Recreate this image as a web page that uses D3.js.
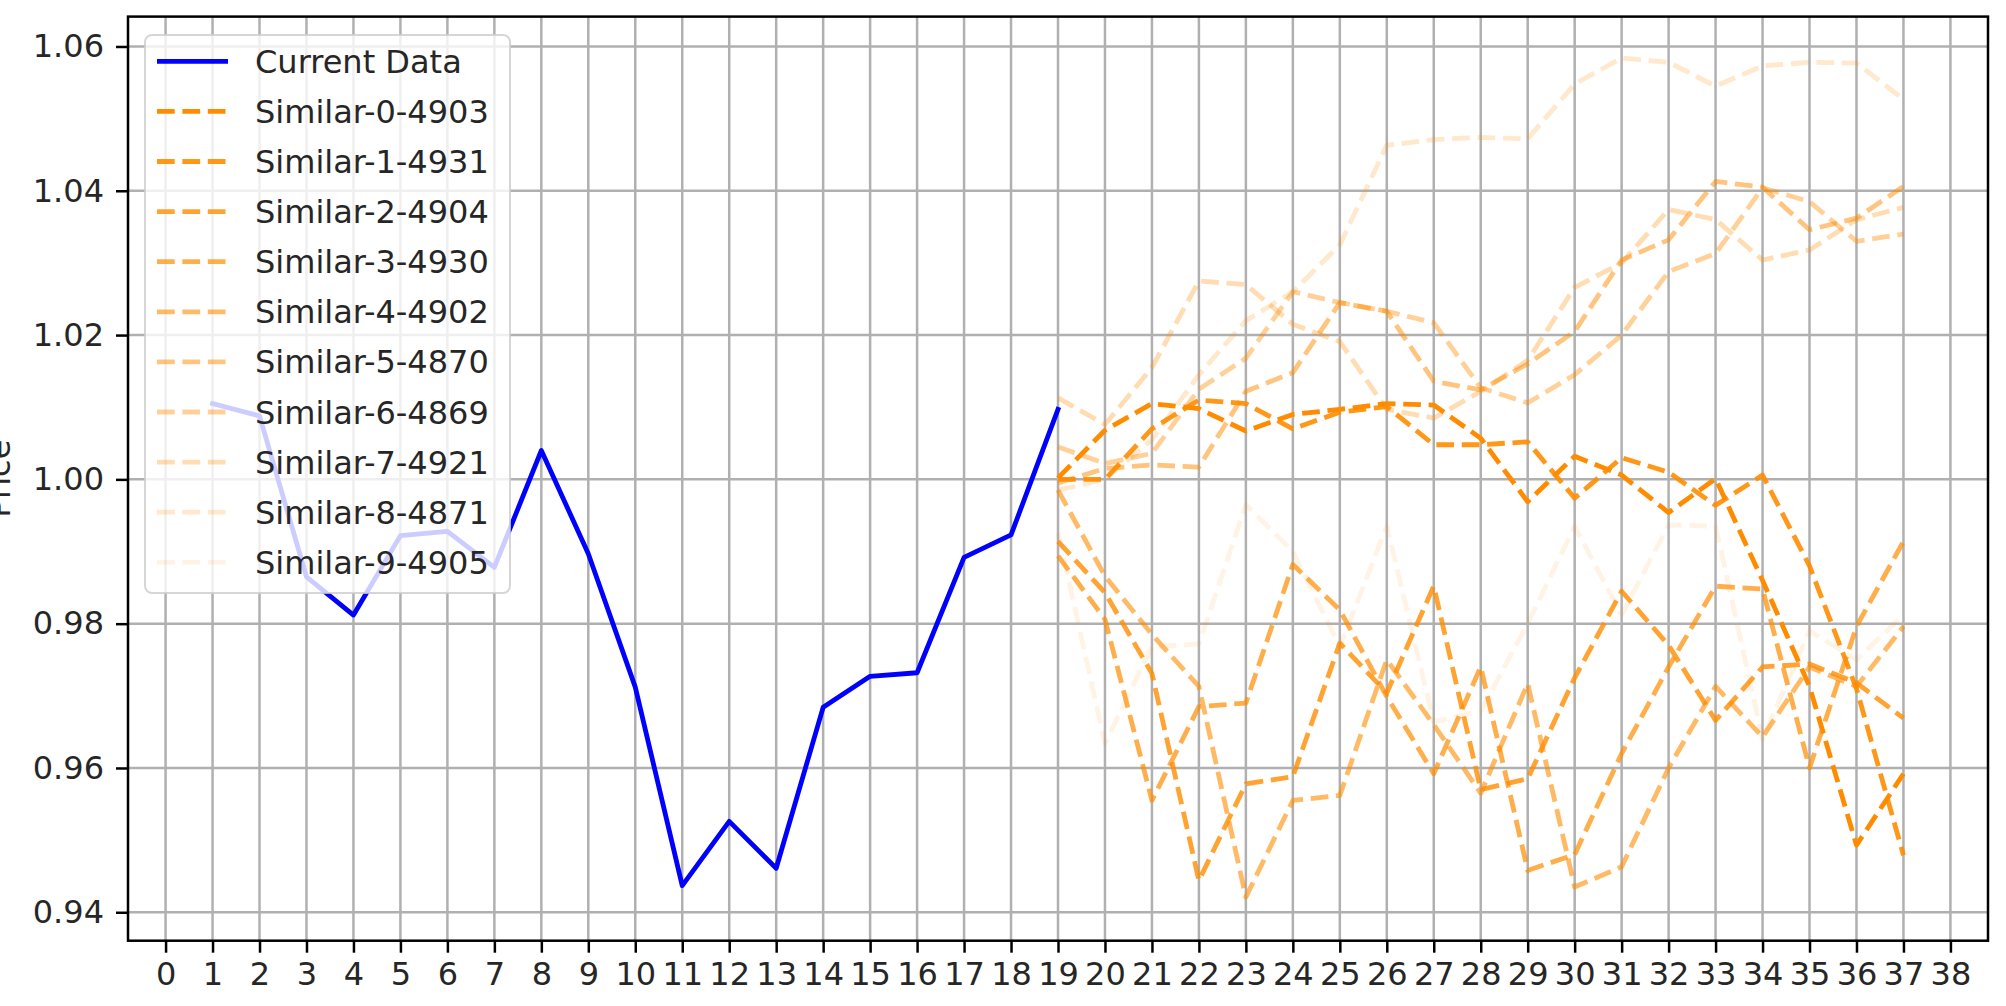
<!DOCTYPE html>
<html><head><meta charset="utf-8">
<script src="https://cdn.jsdelivr.net/npm/d3@7"></script>
<style>body{margin:0;background:#fff;} svg{display:block;} text{font-family:"DejaVu Sans",sans-serif;fill:#262626;}</style>
</head><body>
<svg id="c" width="2006" height="1006"></svg>
<script>
// ---- data ----
const xTicks = d3.range(0, 39);
const yTicks = [0.94, 0.96, 0.98, 1.00, 1.02, 1.04, 1.06];
const currentX = d3.range(1, 20);
const currentData = [1.0105, 1.0088, 0.9865, 0.9812, 0.9922, 0.9928, 0.9878, 1.0040, 0.9897, 0.9712,
  0.9437, 0.9526, 0.9461, 0.9684, 0.9727, 0.9732, 0.9892, 0.9923, 1.0097];
const similarX = d3.range(19, 38);
const similarNames = ["Similar-0-4903","Similar-1-4931","Similar-2-4904","Similar-3-4930","Similar-4-4902",
  "Similar-5-4870","Similar-6-4869","Similar-7-4921","Similar-8-4871","Similar-9-4905"];
const similar0 = [1.0002,1.0068,1.0105,1.0098,1.0067,1.0090,1.0097,1.0105,1.0103,1.0057,0.9969,1.0032,1.0006,0.9954,1.0001,0.9860,0.9713,0.9493,0.9592];
const similar1 = [1.0000,1.0000,1.0070,1.0110,1.0105,1.0070,1.0093,1.0101,1.0048,1.0048,1.0052,0.9974,1.0030,1.0010,0.9964,1.0006,0.9880,0.9710,0.9479];
const similar2 = [0.9914,0.9843,0.9731,0.9444,0.9578,0.9588,0.9773,0.9704,0.9852,0.9570,0.9585,0.9725,0.9845,0.9770,0.9666,0.9740,0.9744,0.9718,0.9669];
const similar3 = [0.9894,0.9806,0.9555,0.9685,0.9690,0.9882,0.9819,0.9699,0.9592,0.9740,0.9458,0.9480,0.9620,0.9740,0.9852,0.9848,0.9600,0.9796,0.9914];
const similar4 = [0.9985,0.9866,0.9785,0.9713,0.9421,0.9555,0.9562,0.9750,0.9660,0.9565,0.9717,0.9435,0.9463,0.9600,0.9713,0.9643,0.9740,0.9713,0.9796];
const similar5 = [0.9995,1.0015,1.0020,1.0017,1.0122,1.0148,1.0245,1.0233,1.0136,1.0124,1.0160,1.0205,1.0304,1.0332,1.0413,1.0405,1.0346,1.0362,1.0406];
const similar6 = [1.0045,1.0022,1.0036,1.0125,1.0168,1.0260,1.0245,1.0233,1.0217,1.0127,1.0106,1.0145,1.0200,1.0288,1.0313,1.0404,1.0385,1.0330,1.0340];
const similar7 = [1.0113,1.0076,1.0155,1.0275,1.0270,1.0215,1.0191,1.0097,1.0085,1.0122,1.0165,1.0266,1.0300,1.0374,1.0360,1.0304,1.0318,1.0360,1.0377];
const similar8 = [0.9985,1.0000,1.0055,1.0145,1.0220,1.0260,1.0325,1.0463,1.0471,1.0474,1.0472,1.0548,1.0584,1.0578,1.0545,1.0573,1.0578,1.0577,1.0527];
const similar9 = [0.9926,0.9634,0.9768,0.9772,0.9965,0.9900,0.9768,0.9935,0.9664,0.9679,0.9800,0.9935,0.9812,0.9937,0.9935,0.9640,0.9790,0.9750,0.9812];
const similarSeries = [similar0,similar1,similar2,similar3,similar4,similar5,similar6,similar7,similar8,similar9];

// ---- layout ----
const L = 128, R = 1988, T = 16.6, B = 940.7;
const FS = 32;
const svg = d3.select("#c");
const x = d3.scaleLinear().domain([-0.8, 38.8]).range([L, R]);
const y = d3.scaleLinear().domain([0.93606, 1.06414]).range([B, T]);

// grid
const g = svg.append("g");
g.selectAll("line.vg").data(xTicks).enter().append("line")
  .attr("x1", d => x(d)).attr("x2", d => x(d)).attr("y1", T).attr("y2", B)
  .attr("stroke", "#b0b0b0").attr("stroke-width", 2.5);
g.selectAll("line.hg").data(yTicks).enter().append("line")
  .attr("y1", d => y(d)).attr("y2", d => y(d)).attr("x1", L).attr("x2", R)
  .attr("stroke", "#b0b0b0").attr("stroke-width", 2.5);

// lines
const line = d3.line().x(d => x(d[0])).y(d => y(d[1]));
svg.append("path").datum(currentX.map((v, i) => [v, currentData[i]]))
  .attr("d", line).attr("fill", "none").attr("stroke", "#0000ff")
  .attr("stroke-width", 4.8).attr("stroke-linejoin", "round").attr("stroke-linecap", "square");
similarSeries.forEach((s, k) => {
  svg.append("path").datum(similarX.map((v, i) => [v, s[i]]))
    .attr("d", line).attr("fill", "none").attr("stroke", "#ff8c00")
    .attr("stroke-opacity", 1 - 0.1 * k)
    .attr("stroke-width", 4.8).attr("stroke-dasharray", "17.7 7.7")
    .attr("stroke-linejoin", "round").attr("stroke-linecap", "butt");
});

// axes
const xAxis = d3.axisBottom(x).tickValues(xTicks).tickFormat(d3.format("d")).tickSize(12).tickPadding(10);
const yAxis = d3.axisLeft(y).tickValues(yTicks).tickFormat(d3.format(".2f")).tickSize(12).tickPadding(12);
const gx = svg.append("g").attr("transform", `translate(0,${B})`).call(xAxis);
const gy = svg.append("g").attr("transform", `translate(${L},0)`).call(yAxis);
[gx, gy].forEach(a => {
  a.select(".domain").remove();
  a.selectAll(".tick line").attr("stroke", "#000").attr("stroke-width", 2.5);
  a.selectAll(".tick text").attr("font-size", FS).attr("fill", "#262626")
    .style("font-family", "DejaVu Sans");
});
svg.append("rect").attr("x", L).attr("y", T).attr("width", R - L).attr("height", B - T)
  .attr("fill", "none").attr("stroke", "#000").attr("stroke-width", 2.5);

// y label
svg.append("text").attr("transform", `translate(10,${(T + B) / 2}) rotate(-90)`)
  .attr("text-anchor", "middle").attr("font-size", FS).text("Price");

// legend
const lg = svg.append("g");
lg.append("rect").attr("x", 145).attr("y", 35).attr("width", 365).attr("height", 558)
  .attr("rx", 7).attr("fill", "#fff").attr("fill-opacity", 0.8)
  .attr("stroke", "#cccccc").attr("stroke-opacity", 0.8).attr("stroke-width", 2);
const legendItems = [{name: "Current Data", color: "#0000ff", op: 1, dash: null}]
  .concat(similarNames.map((n, k) => ({name: n, color: "#ff8c00", op: 1 - 0.1 * k, dash: "17.7 7.7"})));
legendItems.forEach((it, k) => {
  const cy = 61.3 + 50.1 * k;
  const ln = lg.append("line").attr("x1", 157).attr("x2", 228).attr("y1", cy).attr("y2", cy)
    .attr("stroke", it.color).attr("stroke-opacity", it.op).attr("stroke-width", 4.8);
  if (it.dash) ln.attr("stroke-dasharray", it.dash);
  lg.append("text").attr("x", 255).attr("y", cy + 11.5).attr("font-size", FS).text(it.name);
});
</script>
</body></html>
